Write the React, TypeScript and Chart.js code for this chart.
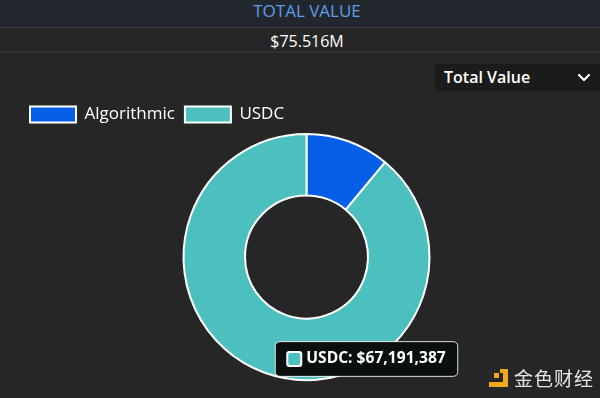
import React, { useEffect, useRef } from "react";
import { Chart, registerables, Tooltip } from "chart.js";

Chart.register(...registerables);

const headerTitle = "TOTAL VALUE";
const totalLabel = "$75.516M";
const selectorLabel = "Total Value";
const categories = ["Algorithmic", "USDC"];
const values = [8324613, 67191387];
const colors = ["#055fe6", "#4cc0bf"];
const activeIndex = 1;

const FONT = "'Open Sans', 'Noto Sans', sans-serif";

(Tooltip.positioners as any).hoverPoint = function (elements: any[]) {
  if (!elements.length) return false;
  const el = elements[0].element;
  return { x: el.x + 60, y: el.y + 102, xAlign: "center", yAlign: "center" };
};

export default function App() {
  const canvasRef = useRef<HTMLCanvasElement | null>(null);

  useEffect(() => {
    document.body.style.margin = "0";
    const canvas = canvasRef.current;
    if (!canvas) return;
    const chart = new Chart(canvas, {
      type: "doughnut",
      data: {
        labels: categories,
        datasets: [
          {
            data: values,
            backgroundColor: colors,
            hoverBackgroundColor: colors,
            borderColor: "#ffffff",
            hoverBorderColor: "#ffffff",
            borderWidth: 2,
          },
        ],
      },
      options: {
        animation: false,
        responsive: false,
        maintainAspectRatio: false,
        cutout: "50%",
        layout: { padding: { left: 20, right: 7, top: 43, bottom: 17 } },
        plugins: {
          legend: {
            position: "top",
            align: "start",
            labels: {
              color: "#ffffff",
              font: { family: FONT, size: 17, weight: "500" as any },
              boxWidth: 46,
              boxHeight: 16,
              padding: 10,
            },
          },
          tooltip: {
            enabled: true,
            position: "hoverPoint" as any,
            backgroundColor: "#0a0f0f",
            borderColor: "rgba(255,255,255,0.85)",
            borderWidth: 1,
            cornerRadius: 5,
            caretSize: 0,
            caretPadding: 0,
            padding: { x: 12, y: 8 } as any,
            bodyColor: "#ffffff",
            bodyFont: { family: FONT, size: 15.6, weight: "bold" },
            displayColors: true,
            boxWidth: 14,
            boxHeight: 14,
            boxPadding: 3,
            callbacks: {
              title: () => "",
              label: (ctx: any) =>
                `${ctx.label}: $${Number(ctx.parsed).toLocaleString("en-US")}`,
              labelColor: (ctx: any) => ({
                borderColor: "#ffffff",
                backgroundColor: colors[ctx.dataIndex],
                borderWidth: 2,
                borderRadius: 2,
              }),
            },
          },
        },
      },
    });
    chart.tooltip?.setActiveElements([{ datasetIndex: 0, index: activeIndex }], {
      x: 0,
      y: 0,
    });
    chart.update();
    return () => chart.destroy();
  }, []);

  return (
    <div
      style={{
        position: "relative",
        width: 600,
        height: 398,
        background: "#262626",
        overflow: "hidden",
        fontFamily: FONT,
      }}
    >
      <div
        style={{
          position: "absolute",
          left: 0,
          top: 0,
          width: 614,
          height: 27,
          background: "#22272e",
          borderBottom: "1px solid #3b3e43",
          color: "#5e9ee6",
          fontSize: 17,
          fontWeight: 500,
          lineHeight: "22px",
          textAlign: "center",
        }}
      >
        {headerTitle}
      </div>
      <div
        style={{
          position: "absolute",
          left: 0,
          top: 28,
          width: 614,
          height: 23,
          background: "#262626",
          borderBottom: "2px solid #303030",
          color: "#ffffff",
          fontSize: 16,
          fontWeight: 500,
          lineHeight: "26px",
          textAlign: "center",
        }}
      >
        {totalLabel}
      </div>
      <div
        style={{
          position: "absolute",
          left: 435,
          top: 64,
          width: 170,
          height: 27,
          background: "#1b1b1b",
          borderRadius: 4,
          color: "#ffffff",
          fontSize: 16,
          fontWeight: 600,
          lineHeight: "27px",
          paddingLeft: 9,
          boxSizing: "border-box",
        }}
      >
        {selectorLabel}
        <svg
          width={14}
          height={10}
          style={{ position: "absolute", left: 142, top: 9 }}
        >
          <polyline
            points="2,2 7,7 12,2"
            fill="none"
            stroke="#ffffff"
            strokeWidth={2.2}
            strokeLinecap="round"
            strokeLinejoin="round"
          />
        </svg>
      </div>
      <canvas
        ref={canvasRef}
        width={600}
        height={345}
        style={{ position: "absolute", left: 0, top: 53, width: 600, height: 345 }}
      />
      <svg
        width={24}
        height={24}
        style={{ position: "absolute", left: 486, top: 366 }}
      >
        <rect x={8} y={7} width={5} height={5} fill="#f0a91a" />
        <rect x={17} y={3} width={5} height={18} fill="#f0a91a" />
        <rect x={3} y={16} width={19} height={5} fill="#f0a91a" />
        <rect x={14} y={3} width={5} height={4} fill="#f0a91a" />
      </svg>
      <div
        style={{
          position: "absolute",
          left: 514,
          top: 366,
          color: "#e6e6e6",
          fontSize: 19,
          lineHeight: "24px",
          fontFamily: "'Noto Sans CJK SC', sans-serif",
          letterSpacing: 1,
        }}
      >
        金色财经
      </div>
    </div>
  );
}
